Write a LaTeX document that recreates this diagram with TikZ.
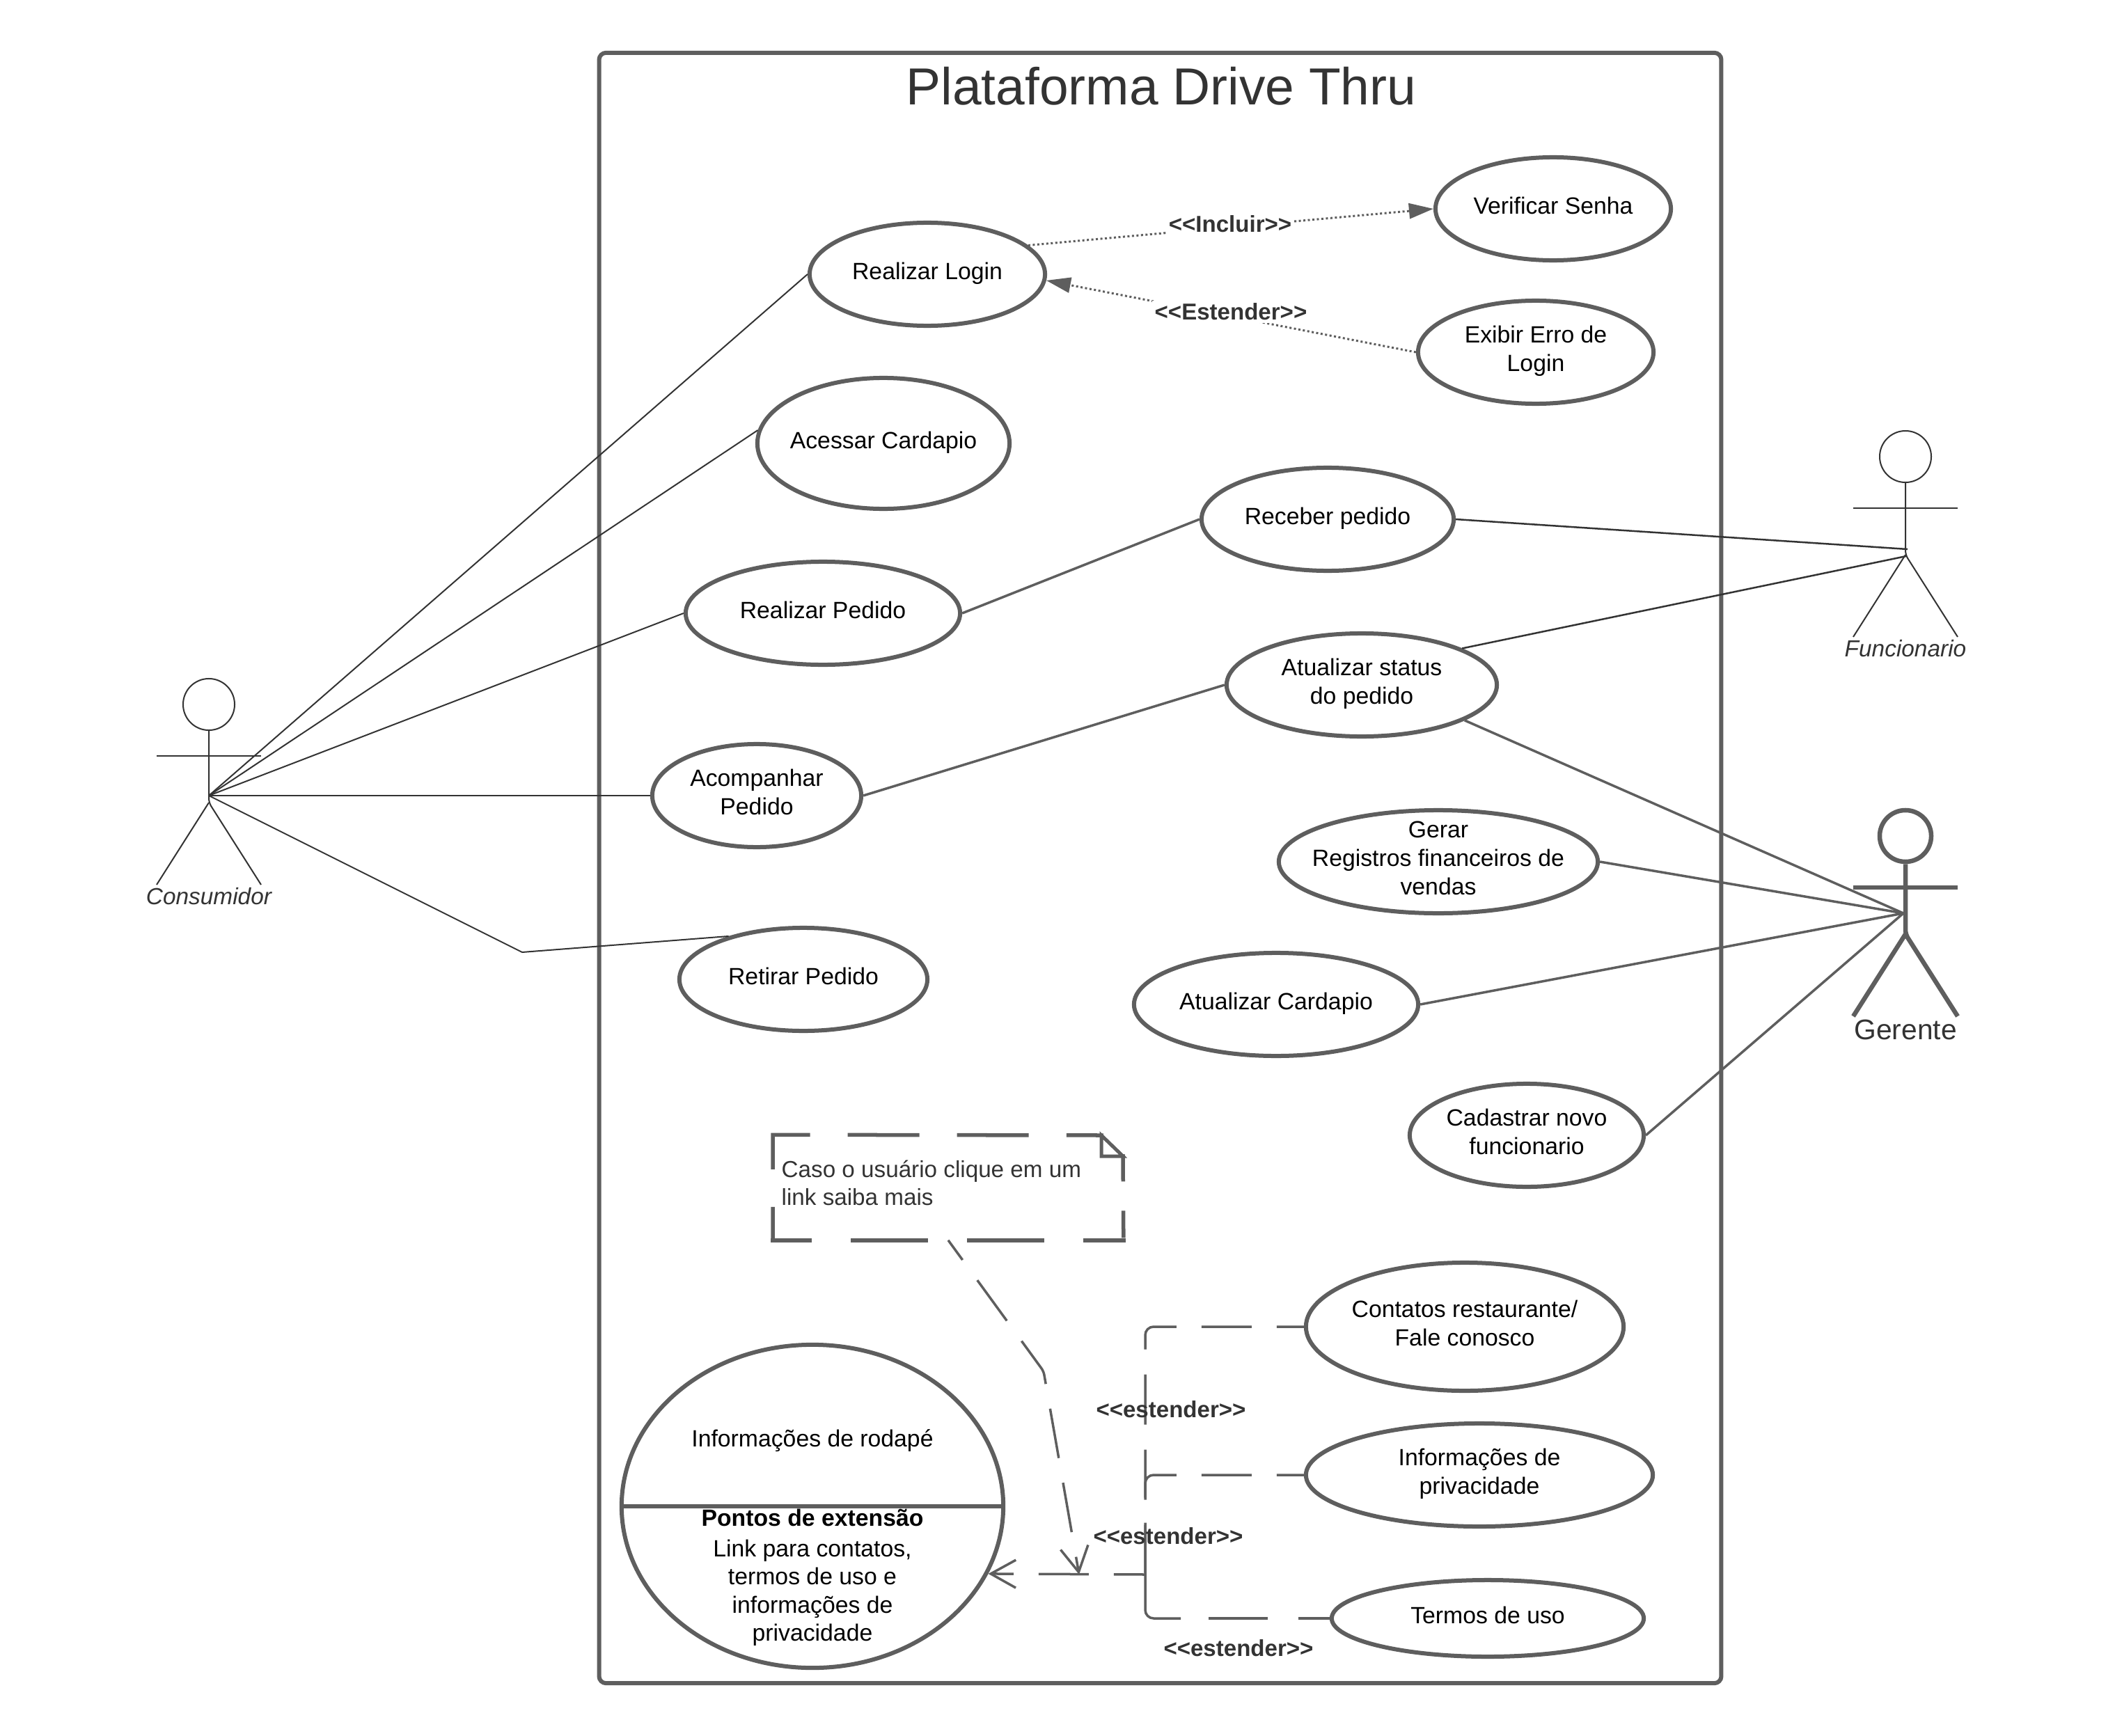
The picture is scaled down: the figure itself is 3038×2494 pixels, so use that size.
\documentclass[tikz,border=0pt]{standalone}
\usepackage{fontspec}
\setmainfont{Liberation Sans}
\usetikzlibrary{positioning, arrows.meta, shapes.geometric}
\definecolor{traco}{HTML}{5E5E5E}
\definecolor{escuro}{HTML}{333333}
\newcommand{\estereo}[1]{<{}<#1>{}>}

\begin{document}
\begin{tikzpicture}[
    x=0.01cm, y=-0.01cm,
    font=\fontsize{9.6}{11.55}\selectfont,
    moldura/.style={rectangle, draw=traco, line width=0.06cm, rounded corners=0.1cm, minimum width=16.11cm, minimum height=23.41cm},
    caso/.style={ellipse, draw=traco, line width=0.06cm, fill=white, inner sep=0pt, minimum width=3.38cm, minimum height=1.48cm},
    casotexto/.style={align=center, text=black, inner sep=0pt, text depth=2pt, yshift=0.5pt},
    casolinha/.style={casotexto, yshift=-0.25pt},
    rotulo/.style={font=\fontsize{9.4}{11.3}\selectfont\bfseries, text=escuro, inner sep=1pt},
    atornome/.style={font=\fontsize{9.5}{11.4}\selectfont\itshape, text=escuro, inner sep=0pt},
    fino/.style={draw=escuro, line width=0.02cm},
    grosso/.style={draw=traco, line width=0.065cm},
    liga/.style={draw=escuro, line width=0.02cm},
    assoc/.style={draw=traco, line width=0.035cm},
    pontos/.style={draw=traco, line width=0.03cm, dash pattern=on 0.03cm off 0.035cm, -{Triangle[length=0.35cm, width=0.22cm]}},
    estende/.style={draw=traco, line width=0.035cm, rounded corners=0.12cm, dash pattern=on 0.72cm off 0.36cm},
    nota/.style={draw=traco, line width=0.055cm, line cap=rect}
]
\useasboundingbox (0,0) rectangle (3038,2494);

% Frame and title
\node[moldura] (plataforma) at (1666.5,1247) {};
\node[font=\fontsize{21.3}{25}\selectfont, text=escuro, inner sep=0pt] (titulo) at (1668,124) {Plataforma Drive Thru};

% Use cases
\node[caso, label={[casolinha]center:Realizar Login}] (login) at (1332,394) {};
\node[caso, label={[casolinha]center:Verificar Senha}] (senha) at (2231,300) {};
\node[caso, label={[casotexto]center:Exibir Erro de\\Login}] (erro) at (2206,506) {};
\node[caso, minimum width=3.62cm, minimum height=1.88cm, label={[casolinha]center:Acessar Cardapio}] (acessar) at (1269,637) {};
\node[caso, minimum width=3.62cm, label={[casolinha]center:Receber pedido}] (receber) at (1907,746) {};
\node[caso, minimum width=3.94cm, label={[casolinha]center:Realizar Pedido}] (pedido) at (1182,881) {};
\node[caso, minimum width=3.88cm, label={[casotexto]center:Atualizar status\\do pedido}] (status) at (1956,984) {};
\node[caso, minimum width=3cm, label={[casotexto]center:Acompanhar\\Pedido}] (acompanhar) at (1087,1143) {};
\node[caso, minimum width=4.58cm, label={[casotexto]center:Gerar\\Registros financeiros de\\vendas}] (gerar) at (2066,1238) {};
\node[caso, minimum width=3.56cm, label={[casolinha]center:Retirar Pedido}] (retirar) at (1154,1407) {};
\node[caso, minimum width=4.08cm, label={[casolinha]center:Atualizar Cardapio}] (cardapio) at (1833,1443) {};
\node[caso, minimum width=3.36cm, label={[casotexto]center:Cadastrar novo\\funcionario}] (cadastrar) at (2193,1631) {};
\node[caso, minimum width=4.56cm, minimum height=1.84cm, label={[casotexto]center:Contatos restaurante/\\Fale conosco}] (contatos) at (2104,1906) {};
\node[caso, minimum width=4.98cm, label={[casotexto]center:Informações de\\privacidade}] (privacidade) at (2125,2119) {};
\node[caso, minimum width=4.48cm, minimum height=1.1cm, label={[casolinha]center:Termos de uso}] (termos) at (2137,2325) {};

% Footer use case with extension points
\node[caso, minimum width=5.48cm, minimum height=4.64cm] (rodape) at (1167,2164) {};
\draw[draw=traco, line width=0.055cm] (rodape.west) -- (rodape.east);
\node[casolinha] (rodapetit) at (1167,2070) {Informações de rodapé};
\node[casotexto, font=\fontsize{9.6}{11.55}\selectfont\bfseries] (pontos) at (1167,2186) {Pontos de extensão};
\node[casotexto, below=0.12cm of pontos] (pontostxt) {Link para contatos,\\termos de uso e\\informações de\\privacidade};

% Actors
\foreach \nome/\ax/\ay/\estilo in {cons/300/1012/fino, func/2737/656/fino, ger/2737/1201/grosso} {
    \node[circle, \estilo, minimum size=0.74cm, inner sep=0pt] (\nome) at (\ax,\ay) {};
    \draw[\estilo, rounded corners=0.06cm] (\nome.south) -- (\ax,\ay+141) -- (\ax+75,\ay+259);
    \draw[\estilo] (\ax-75,\ay+74) -- (\ax+75,\ay+74);
    \draw[\estilo] (\ax,\ay+141) -- (\ax-75,\ay+259);
}
\node[atornome] (consnome) at (300,1288) {Consumidor};
\node[atornome] (funcnome) at (2737,932) {Funcionario};
\node[font=\fontsize{11.6}{14}\selectfont, text=escuro, inner sep=0pt] (gernome) at (2737,1479) {Gerente};

\coordinate (conspe) at (300,1143);
\coordinate (funcpe) at (2740,789);
\coordinate (funcquadril) at (2738,799);
\coordinate (gerpe) at (2734,1312);
\coordinate (dobra) at (750,1368);

% Consumidor associations
\draw[liga] (conspe) -- (login.west);
\draw[liga] (conspe) -- (acessar.174);
\draw[liga] (conspe) -- (pedido.west);
\draw[liga] (conspe) -- (acompanhar.west);
\draw[liga] (conspe) -- (dobra) -- (retirar.150);

% Funcionario and Gerente associations
\draw[liga, line width=0.025cm] (receber.east) -- (funcpe);
\draw[liga, line width=0.025cm] (status.20) -- (funcquadril);
\draw[assoc] (pedido.east) -- (receber.west);
\draw[assoc] (acompanhar.east) -- (status.west);
\draw[assoc] (status.-19) -- (gerpe);
\draw[assoc] (gerar.east) -- (gerpe);
\draw[assoc] (cardapio.east) -- (gerpe);
\draw[assoc] (cadastrar.east) -- (gerpe);

% Include and extend
\draw[pontos] (login.16) -- (senha.west);
\draw[pontos] (erro.west) -- (login.-3);
\node[rotulo, fill=white] (incluir) at (1767,322) {\estereo{Incluir}};
\node[rotulo, fill=white] (estender) at (1768,448) {\estereo{Estender}};

% Footer extensions
\coordinate (juncao) at (1645,2262);
\coordinate (termocanto) at (1696,2325);
\draw[estende, dash phase=0.33cm] (contatos.west) -- (contatos.west -| juncao) -- (juncao);
\draw[estende, dash phase=0.33cm] (privacidade.west) -- (privacidade.west -| juncao) -- (juncao);
\draw[estende, dash pattern=on 0.85cm off 0.44cm, dash phase=0.4cm] (termos.west) -- (termocanto);
\draw[assoc, rounded corners=0.12cm] (termocanto) -- (termocanto -| juncao) -- (juncao);
\draw[estende, dash phase=0.27cm, -{Straight Barb[length=0.36cm, width=0.4cm]}] (juncao) -- (rodape.-21);
\node[rotulo] (est1) at (1682,2025) {\estereo{estender}};
\node[rotulo] (est2) at (1678,2207) {\estereo{estender}};
\node[rotulo] (est3) at (1779,2368) {\estereo{estender}};

% Note
\node[rectangle, minimum width=5.02cm, minimum height=1.5cm, inner sep=0pt] (aviso) at (1362,1706) {};
\coordinate (dobratopo) at (1582,1631);
\coordinate (dobrabase) at (1613,1661);
\draw[nota, dash pattern=on 0.975cm off 0.595cm, dash phase=0.525cm] (aviso.south west) -- (aviso.north west) -- (dobratopo);
\draw[nota, dash pattern=on 1.055cm off 0.615cm, dash phase=0.525cm] (aviso.south west) -- (aviso.south east);
\draw[nota, dash pattern=on 0.335cm off 0.475cm] (dobrabase) -- (aviso.south east);
\draw[draw=traco, line width=0.05cm] (dobratopo) -- (dobratopo |- dobrabase) -- (dobrabase) -- cycle;
\node[anchor=north west, align=left, text=escuro, inner sep=0pt, font=\fontsize{9.45}{11.55}\selectfont] (avisotxt) at (1122,1666) {Caso o usuário clique em um\\link saiba mais};
\coordinate (curva) at (1499,1970);
\coordinate (alvo) at (1550,2262);
\draw[estende, rounded corners=0.05cm, dash phase=0.37cm, -{Straight Barb[length=0.36cm, width=0.4cm]}] (aviso.south) -- (curva) -- (alvo);

\end{tikzpicture}
\end{document}
